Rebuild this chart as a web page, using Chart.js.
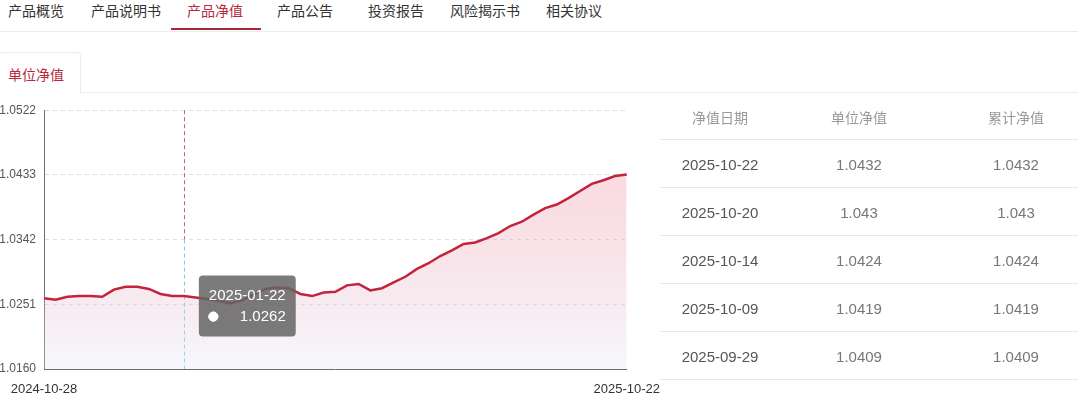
<!DOCTYPE html>
<html lang="zh-CN">
<head>
<meta charset="UTF-8">
<title>产品净值</title>
<script src="https://cdn.jsdelivr.net/npm/chart.js"></script>
<style>
  body {
    margin: 0;
    width: 1078px;
    height: 394px;
    overflow: hidden;
    position: relative;
    background: #fff;
    font-family: "Noto Sans CJK SC", sans-serif;
    color: #333;
  }
  .nav {
    position: absolute;
    left: 0; top: 0;
    width: 1078px; height: 31px;
    border-bottom: 1px solid #ebebeb;
  }
  .nav span {
    position: absolute;
    top: 0;
    line-height: 20px;
    font-size: 14px;
    color: #333;
    white-space: nowrap;
  }
  .nav span.active { color: #b8283c; }
  .nav .bar {
    position: absolute;
    left: 171px; top: 28px;
    width: 90px; height: 2px;
    background: #a52838;
  }
  .subline {
    position: absolute;
    left: 0; top: 92px;
    width: 1078px; height: 1px;
    background: #ebebeb;
  }
  .subtab {
    position: absolute;
    left: -2px; top: 52px;
    width: 81px; height: 40px;
    border: 1px solid #ebebeb;
    border-bottom: none;
    border-radius: 4px 4px 0 0;
    background: #fff;
    z-index: 2;
  }
  .subtab span {
    position: absolute;
    left: 9px; top: 11px;
    font-size: 14px;
    line-height: 20px;
    color: #b8283c;
  }
  .chart-box {
    position: absolute;
    left: 0; top: 95px;
    width: 665px; height: 299px;
  }
  .table {
    position: absolute;
    left: 660px; top: 95px;
    width: 418px;
  }
  .row {
    position: relative;
    height: 47px;
    border-bottom: 1px solid #e8e8e8;
  }
  .row.head { height: 44px; }
  .row span {
    position: absolute;
    top: 50%;
    transform: translate(-50%, -50%);
    white-space: nowrap;
    font-size: 14px;
  }
  .row.head span { color: #999; }
  .row span.d { color: #555; font-family: "Liberation Sans", sans-serif; font-size: 15px; }
  .row span.v { color: #777; font-family: "Liberation Sans", sans-serif; font-size: 15px; }
</style>
</head>
<body>
<div class="nav" id="nav">
  <div class="bar"></div>
</div>
<div class="subline"></div>
<div class="subtab"><span>单位净值</span></div>
<div class="chart-box"><canvas id="navChart"></canvas></div>
<div class="table" id="navTable"></div>
<script>
const tabs = ['产品概览', '产品说明书', '产品净值', '产品公告', '投资报告', '风险揭示书', '相关协议'];
const tabLeft = [8, 91, 187, 277, 368, 450, 546];

const dates = [
  '2024-10-28', '2024-11-04', '2024-11-11', '2024-11-18', '2024-11-25', '2024-12-02',
  '2024-12-09', '2024-12-16', '2024-12-23', '2024-12-30', '2025-01-06', '2025-01-13',
  '2025-01-22', '2025-02-05', '2025-02-12', '2025-02-19', '2025-02-26', '2025-03-05',
  '2025-03-12', '2025-03-19', '2025-03-26', '2025-04-02', '2025-04-09', '2025-04-16',
  '2025-04-23', '2025-04-30', '2025-05-09', '2025-05-16', '2025-05-23', '2025-05-30',
  '2025-06-06', '2025-06-13', '2025-06-20', '2025-06-27', '2025-07-04', '2025-07-11',
  '2025-07-18', '2025-07-25', '2025-08-01', '2025-08-08', '2025-08-15', '2025-08-22',
  '2025-08-29', '2025-09-05', '2025-09-12', '2025-09-19', '2025-09-29', '2025-10-09',
  '2025-10-14', '2025-10-20', '2025-10-22'
];
const unitNav = [
  1.0259, 1.0257, 1.0261, 1.0262, 1.0262, 1.0261,
  1.0271, 1.0275, 1.0275, 1.0272, 1.0265, 1.0262,
  1.0262, 1.0260, 1.0258, 1.0255, 1.0252, 1.0256,
  1.0264, 1.0272, 1.0274, 1.0273, 1.0265, 1.0262,
  1.0267, 1.0268, 1.0277, 1.0279, 1.0270, 1.0273,
  1.0281, 1.0289, 1.0300, 1.0308, 1.0318, 1.0326,
  1.0335, 1.0337, 1.0343, 1.0350, 1.0360, 1.0366,
  1.0376, 1.0385, 1.0390, 1.0399, 1.0409, 1.0419,
  1.0424, 1.0430, 1.0432
];
const yTickLabels = ['1.0160', '1.0251', '1.0342', '1.0433', '1.0522'];
const yMin = 1.0160;
const yMax = 1.0522;
const hoverIndex = 12;

const tableHead = ['净值日期', '单位净值', '累计净值'];
const tableDates = ['2025-10-22', '2025-10-20', '2025-10-14', '2025-10-09', '2025-09-29'];
const tableUnit = ['1.0432', '1.043', '1.0424', '1.0419', '1.0409'];
const tableAccum = ['1.0432', '1.043', '1.0424', '1.0419', '1.0409'];
const colCenter = [60, 199, 356];

// tabs
const nav = document.getElementById('nav');
tabs.forEach((t, i) => {
  const s = document.createElement('span');
  s.textContent = t;
  s.style.left = tabLeft[i] + 'px';
  if (i === 2) s.className = 'active';
  nav.appendChild(s);
});

// table
const table = document.getElementById('navTable');
function addRow(cells, cls, cellCls) {
  const r = document.createElement('div');
  r.className = 'row' + (cls ? ' ' + cls : '');
  cells.forEach((c, i) => {
    const s = document.createElement('span');
    s.textContent = c;
    s.style.left = colCenter[i] + 'px';
    if (cellCls) s.className = cellCls[i];
    r.appendChild(s);
  });
  table.appendChild(r);
}
addRow(tableHead, 'head');
tableDates.forEach((d, i) => addRow([d, tableUnit[i], tableAccum[i]], '', ['d', 'v', 'v']));

// tooltip placed to the right of the hovered point
Chart.Tooltip.positioners.nearPoint = function(items) {
  if (!items.length) return false;
  const el = items[0].element;
  return { x: el.x + 15, y: el.y + 10 };
};

// dashed vertical pointer line
const pointerLine = {
  id: 'pointerLine',
  beforeDatasetsDraw(chart) {
    const el = chart.getDatasetMeta(0).data[hoverIndex];
    const a = chart.chartArea;
    const c = chart.ctx;
    const x = Math.round(el.x) + 0.5;
    const split = a.top + (a.bottom - a.top) * 0.5;
    c.save();
    c.lineWidth = 1;
    c.setLineDash([4, 3]);
    c.strokeStyle = 'rgba(185,60,85,0.8)';
    c.beginPath();
    c.moveTo(x, a.top);
    c.lineTo(x, split);
    c.stroke();
    c.strokeStyle = 'rgba(120,195,230,0.9)';
    c.beginPath();
    c.moveTo(x, split);
    c.lineTo(x, a.bottom);
    c.stroke();
    c.restore();
  }
};

const ctx = document.getElementById('navChart').getContext('2d');
const chart = new Chart(ctx, {
  type: 'line',
  data: {
    labels: dates,
    datasets: [{
      label: '单位净值',
      data: unitNav,
      borderColor: '#c4233b',
      borderWidth: 2.5,
      tension: 0,
      pointRadius: 0,
      pointHoverRadius: 0,
      fill: 'start',
      backgroundColor: (context) => {
        const a = context.chart.chartArea;
        if (!a) return 'rgba(0,0,0,0)';
        const g = context.chart.ctx.createLinearGradient(0, a.top, 0, a.bottom);
        g.addColorStop(0, 'rgba(236,70,95,0.22)');
        g.addColorStop(1, 'rgba(228,234,248,0.35)');
        return g;
      }
    }]
  },
  options: {
    responsive: true,
    maintainAspectRatio: false,
    animation: false,
    layout: { padding: { top: 13, right: 33, left: 0, bottom: 0 } },
    plugins: {
      legend: { display: false },
      tooltip: {
        position: 'nearPoint',
        xAlign: 'left',
        yAlign: 'center',
        caretSize: 0,
        caretPadding: 0,
        backgroundColor: 'rgba(100,100,100,0.85)',
        cornerRadius: 4,
        padding: { top: 11, bottom: 11, left: 10, right: 10 },
        titleFont: { family: 'Liberation Sans', size: 15, weight: 'normal' },
        bodyFont: { family: 'Liberation Sans', size: 15 },
        titleColor: '#fff',
        bodyColor: '#fff',
        titleMarginBottom: 3,
        displayColors: true,
        usePointStyle: true,
        boxWidth: 9,
        boxHeight: 9,
        boxPadding: 20,
        callbacks: {
          label: (item) => item.raw.toFixed(4),
          labelColor: () => ({ borderColor: '#fff', backgroundColor: '#fff' }),
          labelPointStyle: () => ({ pointStyle: 'circle', rotation: 0 })
        }
      }
    },
    scales: {
      x: {
        grid: { display: false },
        border: { display: true, color: '#6e6e6e' },
        afterFit: (scale) => { scale.height = 25; },
        ticks: {
          autoSkip: false,
          maxRotation: 0,
          padding: 5,
          color: '#333',
          font: { family: 'Liberation Sans', size: 13 },
          callback: (v, i) => (i === 0 || i === dates.length - 1) ? dates[i] : ''
        }
      },
      y: {
        min: yMin,
        max: yMax,
        afterFit: (scale) => { scale.width = 44; },
        afterBuildTicks: (scale) => {
          scale.ticks = yTickLabels.map((t, i) => ({ value: yMin + i * (yMax - yMin) / (yTickLabels.length - 1) }));
        },
        border: { display: true, color: '#6e6e6e', dash: [4, 4] },
        grid: {
          drawTicks: false,
          color: (c) => c.index === 0 ? 'rgba(0,0,0,0)' : '#dedede'
        },
        ticks: {
          padding: 8,
          color: '#555',
          font: { family: 'Liberation Sans', size: 12 },
          callback: (v, i) => yTickLabels[i]
        }
      }
    }
  },
  plugins: [pointerLine]
});

const el = chart.getDatasetMeta(0).data[hoverIndex];
chart.tooltip.setActiveElements([{ datasetIndex: 0, index: hoverIndex }], { x: el.x, y: el.y });
chart.update();
</script>
</body>
</html>
